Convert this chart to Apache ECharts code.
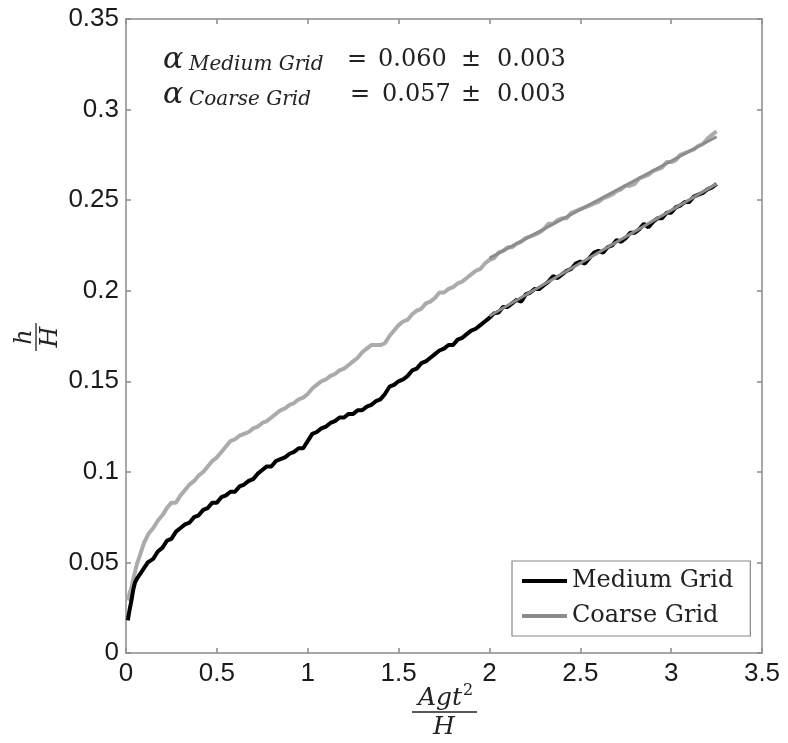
<!DOCTYPE html>
<html>
<head>
<meta charset="utf-8">
<script src="https://cdn.jsdelivr.net/npm/echarts@6/dist/echarts.min.js"></script>
<style>
html,body{margin:0;padding:0;background:#fff;}
#chart{width:788px;height:743px;}
</style>
</head>
<body>
<div id="chart"></div>
<script>
// ---- Data ----
const mediumX = [0.01,0.02,0.03,0.04,0.05,0.06,0.08,0.10,0.12,0.15,0.175,0.20,0.225,0.25,0.275,0.30,0.325,0.35,0.375,0.40,0.425,0.45,0.475,0.50,0.525,0.55,0.575,0.60,0.625,0.65,0.675,0.70,0.725,0.75,0.775,0.80,0.825,0.85,0.875,0.90,0.925,0.95,0.975,1.00,1.025,1.05,1.075,1.10,1.125,1.15,1.175,1.20,1.225,1.25,1.275,1.30,1.325,1.35,1.375,1.40,1.425,1.45,1.475,1.50,1.525,1.55,1.575,1.60,1.625,1.65,1.675,1.70,1.725,1.75,1.775,1.80,1.825,1.85,1.875,1.90,1.925,1.95,1.975,2.00,2.025,2.05,2.075,2.10,2.125,2.15,2.175,2.20,2.225,2.25,2.275,2.30,2.325,2.35,2.375,2.40,2.425,2.45,2.475,2.50,2.525,2.55,2.575,2.60,2.625,2.65,2.675,2.70,2.725,2.75,2.775,2.80,2.825,2.85,2.875,2.90,2.925,2.95,2.975,3.00,3.025,3.05,3.075,3.10,3.125,3.15,3.175,3.20,3.225,3.25];
const mediumY = [0.018,0.024,0.029,0.035,0.039,0.041,0.044,0.047,0.050,0.052,0.056,0.058,0.062,0.063,0.067,0.069,0.071,0.072,0.075,0.076,0.079,0.080,0.083,0.083,0.086,0.087,0.089,0.089,0.092,0.093,0.095,0.096,0.099,0.101,0.103,0.103,0.106,0.107,0.108,0.110,0.111,0.113,0.113,0.117,0.121,0.122,0.124,0.125,0.127,0.128,0.130,0.130,0.132,0.132,0.134,0.134,0.136,0.137,0.139,0.140,0.143,0.147,0.148,0.150,0.151,0.153,0.156,0.157,0.160,0.161,0.163,0.165,0.167,0.168,0.170,0.170,0.173,0.174,0.176,0.178,0.179,0.181,0.183,0.185,0.1875,0.188,0.191,0.191,0.193,0.195,0.194,0.198,0.199,0.201,0.201,0.203,0.205,0.208,0.207,0.209,0.211,0.212,0.215,0.216,0.215,0.218,0.221,0.222,0.221,0.224,0.225,0.228,0.227,0.229,0.232,0.232,0.234,0.237,0.235,0.238,0.240,0.240,0.243,0.243,0.246,0.247,0.249,0.249,0.252,0.253,0.254,0.256,0.257,0.259];

const coarseX = [0.01,0.02,0.03,0.04,0.05,0.06,0.07,0.08,0.09,0.10,0.125,0.15,0.175,0.20,0.225,0.25,0.275,0.30,0.325,0.35,0.375,0.40,0.425,0.45,0.475,0.50,0.525,0.55,0.575,0.60,0.625,0.65,0.675,0.70,0.725,0.75,0.775,0.80,0.825,0.85,0.875,0.90,0.925,0.95,0.975,1.00,1.025,1.05,1.075,1.10,1.125,1.15,1.175,1.20,1.225,1.25,1.275,1.30,1.325,1.35,1.375,1.40,1.425,1.45,1.475,1.50,1.525,1.55,1.575,1.60,1.625,1.65,1.675,1.70,1.725,1.75,1.775,1.80,1.825,1.85,1.875,1.90,1.925,1.95,1.975,2.00,2.025,2.05,2.075,2.10,2.125,2.15,2.175,2.20,2.225,2.25,2.275,2.30,2.325,2.35,2.375,2.40,2.425,2.45,2.475,2.50,2.525,2.55,2.575,2.60,2.625,2.65,2.675,2.70,2.725,2.75,2.775,2.80,2.825,2.85,2.875,2.90,2.925,2.95,2.975,3.00,3.025,3.05,3.075,3.10,3.125,3.15,3.175,3.20,3.225,3.25];
const coarseY = [0.029,0.033,0.036,0.041,0.045,0.049,0.052,0.055,0.058,0.061,0.066,0.069,0.073,0.076,0.080,0.083,0.083,0.087,0.090,0.093,0.095,0.098,0.100,0.103,0.106,0.108,0.111,0.114,0.117,0.118,0.120,0.121,0.122,0.124,0.125,0.127,0.128,0.130,0.132,0.134,0.135,0.137,0.138,0.140,0.141,0.143,0.146,0.148,0.150,0.151,0.153,0.154,0.156,0.157,0.159,0.161,0.163,0.166,0.168,0.170,0.170,0.170,0.171,0.175,0.178,0.181,0.183,0.184,0.187,0.189,0.190,0.193,0.194,0.196,0.199,0.199,0.201,0.202,0.204,0.205,0.207,0.209,0.211,0.212,0.215,0.217,0.218,0.221,0.222,0.224,0.224,0.226,0.227,0.229,0.230,0.231,0.232,0.234,0.237,0.237,0.239,0.240,0.240,0.243,0.244,0.245,0.246,0.247,0.248,0.249,0.251,0.252,0.253,0.255,0.256,0.258,0.258,0.259,0.262,0.263,0.264,0.266,0.267,0.268,0.271,0.271,0.272,0.275,0.276,0.277,0.278,0.280,0.281,0.284,0.286,0.288];

const mediumFitX = [2.0, 3.25];
const mediumFitY = [0.186, 0.259];
const coarseFitX = [2.0, 3.25];
const coarseFitY = [0.218, 0.285];

const xTicks = {min: 0, max: 3.5, interval: 0.5};
const yTicks = {min: 0, max: 0.35, interval: 0.05};

const seriesNames = ['Medium Grid', 'Coarse Grid'];
const alphaRows = [
  {sub: 'Medium Grid', val: '0.060', err: '0.003'},
  {sub: 'Coarse Grid', val: '0.057', err: '0.003'}
];

function pairs(xs, ys){ return xs.map((x,i)=>[x, ys[i]]); }

const SERIF = '"DejaVu Serif", "Liberation Serif", serif';
const SANS = '"Liberation Sans", Arial, sans-serif';
const AX = '#8a8a8a';

const chart = echarts.init(document.getElementById('chart'), null, {renderer:'canvas'});

function baseX(pos, show){
  return {
    type:'value', position: pos, min:xTicks.min, max:xTicks.max, interval:xTicks.interval,
    axisLine:{show:true, onZero:false, lineStyle:{color:AX, width:1.5}},
    axisTick:{show:true, inside:true, length:5, lineStyle:{color:AX, width:1.5}},
    axisLabel:{show:show, color:'#1a1a1a', fontFamily:SANS, fontSize:26, margin:8},
    splitLine:{show:false}
  };
}
function baseY(pos, show){
  return {
    type:'value', position: pos, min:yTicks.min, max:yTicks.max, interval:yTicks.interval,
    axisLine:{show:true, onZero:false, lineStyle:{color:AX, width:1.5}},
    axisTick:{show:true, inside:true, length:5, lineStyle:{color:AX, width:1.5}},
    axisLabel:{show:show, color:'#1a1a1a', fontFamily:SANS, fontSize:26, margin:7},
    splitLine:{show:false}
  };
}

const graphics = [];
const rowY = [60, 95];
const eqX = [347, 350];
const valX = [378, 382];
alphaRows.forEach((r, i) => {
  const y = rowY[i];
  graphics.push({type:'text', x:163, y:y, style:{text:'α', font:'italic 30px '+SERIF, fill:'#222', textAlign:'left', textVerticalAlign:'middle', verticalAlign:'middle'}});
  graphics.push({type:'text', x:189, y:y+5, style:{text:r.sub, font:'italic 20px '+SERIF, fill:'#222', textAlign:'left', textVerticalAlign:'middle', verticalAlign:'middle'}});
  graphics.push({type:'text', x:eqX[i], y:y, style:{text:'=', font:'24px '+SERIF, fill:'#222', textAlign:'left', textVerticalAlign:'middle', verticalAlign:'middle'}});
  graphics.push({type:'text', x:valX[i], y:y, style:{text:r.val, font:'24px '+SERIF, fill:'#222', textAlign:'left', textVerticalAlign:'middle', verticalAlign:'middle'}});
  graphics.push({type:'text', x:461, y:y, style:{text:'±', font:'24px '+SERIF, fill:'#222', textAlign:'left', textVerticalAlign:'middle', verticalAlign:'middle'}});
  graphics.push({type:'text', x:497, y:y, style:{text:r.err, font:'24px '+SERIF, fill:'#222', textAlign:'left', textVerticalAlign:'middle', verticalAlign:'middle'}});
});
// y-axis label h/H (rotated)
graphics.push({
  type:'group', x:36, y:337, rotation: Math.PI/2,
  children:[
    {type:'text', x:0, y:-11, style:{text:'h', font:'italic 24px '+SERIF, fill:'#222', textAlign:'center', textVerticalAlign:'middle', verticalAlign:'middle'}},
    {type:'line', shape:{x1:-14, y1:0, x2:14, y2:0}, style:{stroke:'#222', lineWidth:1.3}},
    {type:'text', x:0, y:15, style:{text:'H', font:'italic 24px '+SERIF, fill:'#222', textAlign:'center', textVerticalAlign:'middle', verticalAlign:'middle'}}
  ]
});
// x-axis label Agt^2/H
graphics.push({
  type:'group', x:445, y:712,
  children:[
    {type:'text', x:-5, y:-14, style:{text:'Agt', font:'italic 25px '+SERIF, fill:'#222', textAlign:'center', textVerticalAlign:'middle', verticalAlign:'middle'}},
    {type:'text', x:23, y:-21, style:{text:'2', font:'16px '+SERIF, fill:'#222', textAlign:'center', textVerticalAlign:'middle', verticalAlign:'middle'}},
    {type:'line', shape:{x1:-33, y1:0, x2:32, y2:0}, style:{stroke:'#222', lineWidth:1.3}},
    {type:'text', x:-1, y:15, style:{text:'H', font:'italic 25px '+SERIF, fill:'#222', textAlign:'center', textVerticalAlign:'middle', verticalAlign:'middle'}}
  ]
});

const option = {
  backgroundColor:'#fff',
  animation:false,
  grid:{left:126, top:19, right:26, bottom:90, containLabel:false},
  xAxis:[baseX('bottom', true), baseX('top', false)],
  yAxis:[baseY('left', true), baseY('right', false)],
  legend:{
    orient:'vertical', left:512, top:561,
    padding:[6,17,6,10], itemGap:7,
    itemWidth:45, itemHeight:4, icon:'rect',
    backgroundColor:'#fff', borderColor:'#888', borderWidth:1.2,
    textStyle:{fontFamily:SERIF, fontSize:24, color:'#222', lineHeight:28},
    data:[
      {name:seriesNames[0], itemStyle:{color:'#000'}},
      {name:seriesNames[1], itemStyle:{color:'#8c8c8c'}}
    ]
  },
  graphic: graphics,
  series:[
    {name:seriesNames[1], type:'line', xAxisIndex:0, yAxisIndex:0, data:pairs(coarseX, coarseY), showSymbol:false, symbol:'none',
     lineStyle:{color:'#ababab', width:4}, itemStyle:{color:'#8c8c8c'}, z:2},
    {name:seriesNames[0], type:'line', xAxisIndex:0, yAxisIndex:0, data:pairs(mediumX, mediumY), showSymbol:false, symbol:'none',
     lineStyle:{color:'#000', width:4}, itemStyle:{color:'#000'}, z:3},
    {name:'Coarse fit', type:'line', data:pairs(coarseFitX, coarseFitY), showSymbol:false, symbol:'none',
     lineStyle:{color:'#8c8c8c', width:3}, itemStyle:{color:'#8c8c8c'}, z:4},
    {name:'Medium fit', type:'line', data:pairs(mediumFitX, mediumFitY), showSymbol:false, symbol:'none',
     lineStyle:{color:'#8c8c8c', width:3}, itemStyle:{color:'#8c8c8c'}, z:4}
  ]
};
chart.setOption(option);
</script>
</body>
</html>
